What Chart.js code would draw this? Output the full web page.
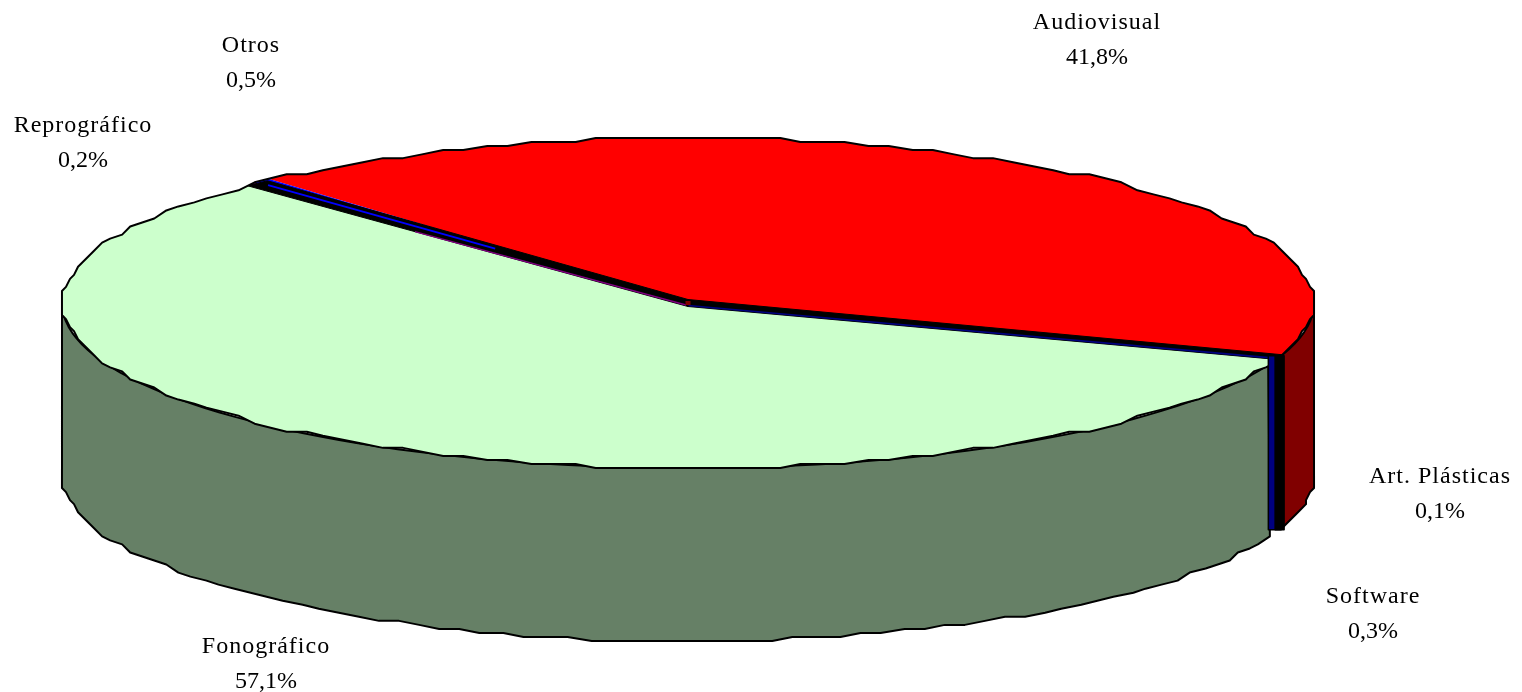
<!DOCTYPE html>
<html>
<head>
<meta charset="utf-8">
<style>html,body{margin:0;padding:0;background:#fff}canvas{display:block}</style>
<script src="https://cdn.jsdelivr.net/npm/chart.js@4/dist/chart.umd.min.js"></script>
</head>
<body>
<canvas id="c" width="1522" height="692"></canvas>
<script>
const categories = ['Audiovisual','Art. Plásticas','Software','Fonográfico','Reprográfico','Otros'];
const shares = [41.8,0.1,0.3,57.1,0.2,0.5];
const topColors = ['#FF0000','#000000','#000080','#CCFFCC','#800080','#0000FF'];
const wallColors = ['#800000','#000000','#000080','#668066','#400040','#000080'];
const labelAnchors = [[1097,29],[1440,483],[1373,603],[266,653],[83,132],[251,52]];

const geo = {cx:688, cy:303, rx:626, ry:165, depth:173, grid:[4.013,4.024], font:'24px "Liberation Serif"', band:3.5};
const wallPad = [0,1.66,2.3,0,0,0];
const rad = Math.PI/180;

function rimPoint(deg, dy, jag){
  let dx = geo.rx*Math.cos(deg*rad), d = geo.ry*Math.sin(deg*rad);
  if(jag){ dx = Math.round(dx/geo.grid[0])*geo.grid[0]; d = Math.round(d/geo.grid[1])*geo.grid[1]; }
  return [geo.cx+dx, geo.cy+d+dy];
}
function rimPath(a1,a2,dy,jag){
  const pts=[], n=Math.max(1,Math.ceil(Math.abs(a2-a1)/2.1));
  for(let i=0;i<=n;i++) pts.push(rimPoint(a1+(a2-a1)*i/n,dy,jag));
  return pts;
}
function poly(ctx,pts,move){
  pts.forEach((p,i)=>{ if(i===0&&move) ctx.moveTo(p[0],p[1]); else ctx.lineTo(p[0],p[1]); });
}
const deg = (el)=>[el.startAngle/rad, el.endAngle/rad];

const pie3d = {
  id:'pie3d',
  beforeDatasetsDraw(chart){
    const ctx=chart.ctx, arcs=chart.getDatasetMeta(0).data;
    ctx.lineJoin='round';
    [3,0].forEach(i=>{
      const [s,e]=deg(arcs[i]);
      const startPad = i===3 ? wallPad[2] : 0;
      for(const shift of [0,360]){
        const a=Math.max(s+startPad-shift,0), b=Math.min(e-shift,180);
        if(b<=a) continue;
        ctx.beginPath();
        poly(ctx,rimPath(a,b,0,false),true);
        poly(ctx,rimPath(b,a,geo.depth,true),false);
        ctx.closePath();
        ctx.fillStyle=wallColors[i];
        ctx.fill();
        ctx.lineWidth=2; ctx.strokeStyle='#000';
        ctx.stroke();
      }
    });
    ctx.save();
    ctx.beginPath();
    poly(ctx,rimPath(0,360,0,true),true);
    ctx.closePath();
    ctx.clip();
    const el=arcs[0], R=el.outerRadius;
    ctx.translate(geo.cx,geo.cy);
    ctx.scale((geo.rx+4)/R,(geo.ry+4)/R);
    ctx.translate(-el.x,-el.y);
  },
  afterDatasetsDraw(chart){
    const ctx=chart.ctx, arcs=chart.getDatasetMeta(0).data;
    ctx.restore();
    const {cx,cy,band}=geo;
    const norm=a=>a%360;
    const red=deg(arcs[0]), soft=deg(arcs[2]), rep=deg(arcs[4]), otr=deg(arcs[5]);

    // rim outline
    ctx.beginPath();
    poly(ctx,rimPath(0,360,0,true),true);
    ctx.closePath();
    ctx.lineWidth=2; ctx.strokeStyle='#000'; ctx.stroke();

    const quad=(p1,p2)=>{
      ctx.beginPath();
      ctx.moveTo(cx,cy-band); ctx.lineTo(p1[0],p1[1]); ctx.lineTo(p2[0],p2[1]); ctx.lineTo(cx,cy+band);
      ctx.closePath(); ctx.fillStyle='#000'; ctx.fill();
      ctx.lineWidth=1; ctx.strokeStyle='#000'; ctx.stroke();
    };
    const line=(a,b,col,lw)=>{
      ctx.beginPath(); ctx.moveTo(a[0],a[1]); ctx.lineTo(b[0],b[1]);
      ctx.strokeStyle=col; ctx.lineWidth=lw; ctx.lineCap='butt'; ctx.stroke();
    };
    const along=(a,b,t)=>[a[0]+(b[0]-a[0])*t,a[1]+(b[1]-a[1])*t];

    // right-hand thin slices: black band with the Software line along its lower edge
    const redEnd=rimPoint(norm(red[1]),0,false);
    const softEnd=rimPoint(norm(soft[1]),0,false);
    const softWallEnd=rimPoint(norm(soft[1])+wallPad[2],0,false);
    const lowRight=[softWallEnd[0],softEnd[1]];
    quad(redEnd,lowRight);
    line([cx,cy+band-1],[lowRight[0],lowRight[1]-1],topColors[2],1.7);

    // walls of the thin right-hand slices, in front of the disc
    const topY=redEnd[1]+1;
    [2,1].forEach(i=>{
      const s=norm(deg(arcs[i])[0]), e=norm(deg(arcs[i])[1])+wallPad[i];
      const bottomY=topY+geo.depth+1;
      const a=i===1?s-0.5:s;
      const xa=rimPoint(a,0,false)[0], xb=rimPoint(e,0,false)[0];
      ctx.beginPath();
      ctx.rect(xb,topY,xa-xb,bottomY-topY);
      ctx.fillStyle=wallColors[i]; ctx.fill();
      ctx.lineWidth=1.5; ctx.strokeStyle='#000'; ctx.stroke();
    });

    // left-hand thin slices
    const otrEnd=rimPoint(otr[1],0,false), repStart=rimPoint(rep[0],0,false);
    quad(otrEnd,repStart);
    const bluePt=[(otrEnd[0]*0.6+repStart[0]*0.4),(otrEnd[1]*0.6+repStart[1]*0.4)];
    line(along(bluePt,[cx,cy],0.02),along(bluePt,[cx,cy-0.5],0.55),topColors[5],1.8);
    line(along(repStart,[cx,cy+band],0.38),[cx-2,cy+band-1.5],topColors[4],1.3);

    // apex mark
    ctx.fillStyle=wallColors[0];
    ctx.fillRect(cx-2.5,cy-2,5,4);

    // labels
    ctx.fillStyle='#000'; ctx.font=geo.font; ctx.textAlign='center'; ctx.textBaseline='alphabetic';
    categories.forEach((c,i)=>{
      const [x,y]=labelAnchors[i];
      ctx.letterSpacing='1px';
      ctx.fillText(c,x,y);
      ctx.letterSpacing='0px';
      ctx.fillText(shares[i].toFixed(1).replace('.',',')+'%',x,y+34.5);
    });
  }
};

new Chart(document.getElementById('c'),{
  type:'pie',
  data:{labels:categories,datasets:[{data:shares,backgroundColor:topColors,borderWidth:0,clip:false}]},
  options:{
    responsive:false,animation:false,rotation:317.8,
    layout:{padding:0},
    plugins:{legend:{display:false},tooltip:{enabled:false}}
  },
  plugins:[pie3d]
});
</script>
</body>
</html>
